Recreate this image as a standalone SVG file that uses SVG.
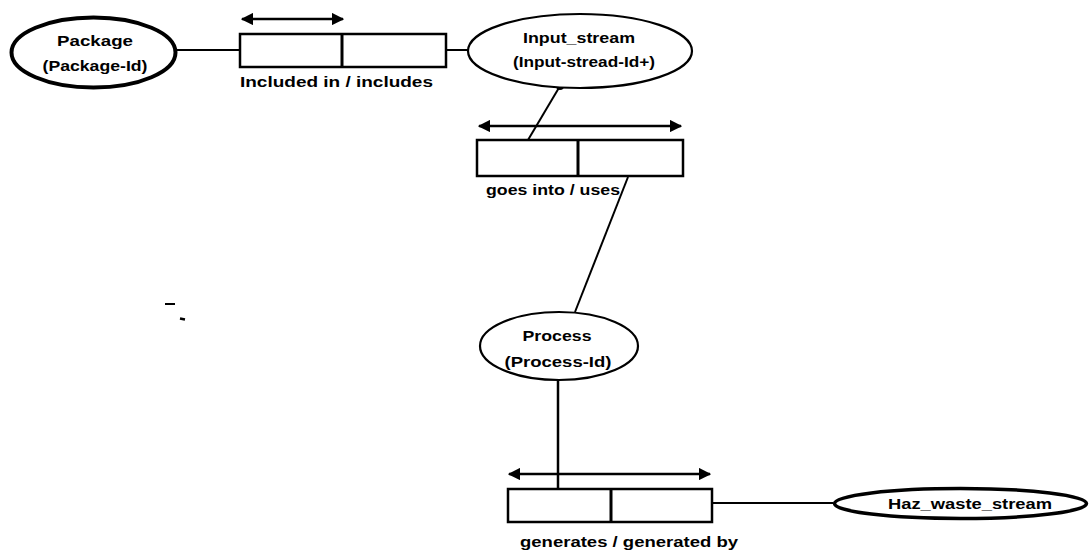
<svg xmlns="http://www.w3.org/2000/svg" width="1090" height="554" viewBox="0 0 1090 554">
  <defs>
    <marker id="head" viewBox="0 0 10 10" refX="9" refY="5" markerWidth="5" markerHeight="5" orient="auto-start-reverse" markerUnits="strokeWidth">
      <path d="M0,0 L10,5 L0,10 z" fill="#000"/>
    </marker>
    <style>
      .ent { fill: #fff; stroke: #000; stroke-width: 2.2; }
      .ent-bold { fill: #fff; stroke: #000; stroke-width: 4; }
      .rel { fill: #fff; stroke: #000; stroke-width: 2.5; }
      .div { stroke: #000; stroke-width: 3; }
      .conn { stroke: #000; stroke-width: 2; fill: none; }
      .dir { stroke: #000; stroke-width: 2.5; fill: none; marker-start: url(#head); marker-end: url(#head); }
      text { font-family: "Liberation Sans", Arial, sans-serif; font-weight: bold; font-size: 15px; fill: #000; }
    </style>
  </defs>

  <!-- connectors -->
  <g id="connectors">
    <line class="conn" x1="177" y1="50" x2="240" y2="50"/>
    <line class="conn" x1="446" y1="50" x2="468" y2="50"/>
    <line class="conn" x1="560" y1="86" x2="528" y2="140"/>
    <circle cx="560" cy="86" r="4" fill="#000"/>
    <line class="conn" x1="628" y1="177" x2="575" y2="312"/>
    <line class="conn" x1="558" y1="380" x2="558" y2="489" style="stroke-width:2.5"/>
    <line class="conn" x1="712" y1="503" x2="833" y2="503"/>
    <path d="M833,503 L845,499 L845,507 z" fill="#000"/>
  </g>

  <!-- Package entity -->
  <g id="package">
    <ellipse class="ent-bold" cx="93.5" cy="52.5" rx="82" ry="35"/>
    <text x="95" y="46" text-anchor="middle" textLength="76" lengthAdjust="spacingAndGlyphs">Package</text>
    <text x="95" y="71" text-anchor="middle" textLength="105" lengthAdjust="spacingAndGlyphs">(Package-Id)</text>
  </g>

  <!-- included in / includes -->
  <g id="rel-includes">
    <line class="dir" x1="242" y1="19" x2="343" y2="19"/>
    <rect class="rel" x="240" y="34" width="206" height="33"/>
    <line class="div" x1="342" y1="34" x2="342" y2="67"/>
    <text x="240" y="87" textLength="193" lengthAdjust="spacingAndGlyphs">Included in / includes</text>
  </g>

  <!-- Input_stream entity -->
  <g id="input-stream">
    <ellipse class="ent" cx="580" cy="51" rx="112" ry="37"/>
    <text x="579" y="43" text-anchor="middle" textLength="112" lengthAdjust="spacingAndGlyphs">Input_stream</text>
    <text x="584" y="67" text-anchor="middle" textLength="142" lengthAdjust="spacingAndGlyphs">(Input-stread-Id+)</text>
  </g>

  <!-- goes into / uses -->
  <g id="rel-uses">
    <line class="dir" x1="479" y1="126" x2="681" y2="126"/>
    <rect class="rel" x="477" y="140" width="206" height="36"/>
    <line class="div" x1="578" y1="140" x2="578" y2="176"/>
    <text x="486" y="195" textLength="134" lengthAdjust="spacingAndGlyphs">goes into / uses</text>
  </g>

  <!-- Process entity -->
  <g id="process">
    <ellipse class="ent" cx="559" cy="346" rx="79" ry="34"/>
    <text x="557" y="341" text-anchor="middle" textLength="69" lengthAdjust="spacingAndGlyphs">Process</text>
    <text x="558" y="367" text-anchor="middle" textLength="107" lengthAdjust="spacingAndGlyphs">(Process-Id)</text>
  </g>

  <!-- generates / generated by -->
  <g id="rel-generates">
    <line class="dir" x1="509" y1="474" x2="710" y2="474"/>
    <rect class="rel" x="508" y="489" width="204" height="33"/>
    <line class="div" x1="611" y1="489" x2="611" y2="522"/>
    <text x="520" y="547" textLength="218" lengthAdjust="spacingAndGlyphs">generates / generated by</text>
  </g>

  <!-- Haz_waste_stream entity -->
  <g id="haz-waste-stream">
    <ellipse class="ent" cx="960.5" cy="503.5" rx="126" ry="15" style="stroke-width:3.5"/>
    <text x="970" y="509" text-anchor="middle" textLength="164" lengthAdjust="spacingAndGlyphs">Haz_waste_stream</text>
  </g>

  <!-- stray marks -->
  <line x1="165" y1="304" x2="175" y2="304" stroke="#000" stroke-width="2"/>
  <line x1="180" y1="318.5" x2="185" y2="319.5" stroke="#000" stroke-width="2.5"/>
</svg>
